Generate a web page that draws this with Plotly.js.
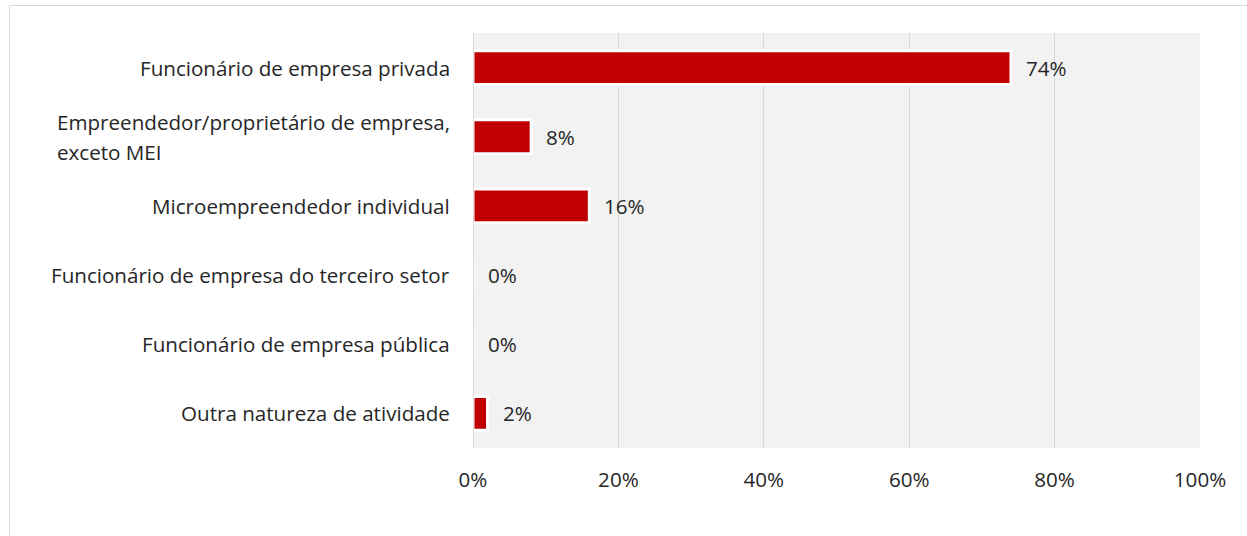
<!DOCTYPE html>
<html>
<head>
<meta charset="utf-8">
<script src="https://cdn.plot.ly/plotly-3.0.1.min.js"></script>
<style>
  html, body { margin: 0; padding: 0; background: #fff; }
  #frame { position: absolute; left: 9px; top: 5px; width: 1300px; height: 600px;
           border-top: 1px solid #d9d9d9; border-left: 1px solid #d9d9d9; }
  #chart { position: absolute; left: 0; top: 0; width: 1247px; height: 536px; }
</style>
</head>
<body>
<div id="frame"></div>
<div id="chart"></div>
<script>
const categories = [
  "Funcionário de empresa privada",
  "Empreendedor/proprietário de empresa,<br>exceto MEI",
  "Microempreendedor individual",
  "Funcionário de empresa do terceiro setor",
  "Funcionário de empresa pública",
  "Outra natureza de atividade"
];
const values = [74, 8, 16, 0, 0, 2];
const tickValues = [0, 20, 40, 60, 80, 100];
const tickLabels = ["0%", "20%", "40%", "60%", "80%", "100%"];

const FONT = "Open Sans, Noto Sans, sans-serif";
const TXT = "#262626";
const FS = 20.6;

const trace = {
  type: "bar",
  orientation: "h",
  y: categories,
  x: values,
  marker: { color: "#c00000", line: { color: "#ffffff", width: 3 } },
  hoverinfo: "skip"
};

const annotations = [];
categories.forEach((c, i) => {
  annotations.push({
    x: values[i], y: c, xref: "x", yref: "y",
    text: values[i] + "%", showarrow: false,
    xanchor: "left", xshift: 13,
    font: { family: FONT, size: FS, color: TXT }
  });
  const lines = c.split("<br>");
  lines.forEach((ln, j) => {
    annotations.push({
      x: 0, y: c, xref: "paper", yref: "y",
      text: ln, showarrow: false,
      xanchor: "right", align: "left",
      xshift: -21,
      yshift: (lines.length - 1) * 15 - j * 30,
      font: { family: FONT, size: FS, color: TXT }
    });
  });
});

const layout = {
  width: 1247, height: 536,
  margin: { l: 473, r: 47, t: 33, b: 88 },
  paper_bgcolor: "rgba(0,0,0,0)",
  plot_bgcolor: "#f2f2f2",
  bargap: 0.51,
  showlegend: false,
  font: { family: FONT, size: FS, color: TXT },
  xaxis: {
    range: [0, 100], tickvals: tickValues, ticktext: tickLabels,
    showgrid: true, gridcolor: "#d9d9d9", gridwidth: 1,
    zeroline: false, showline: false, ticks: "",
    ticklabelstandoff: 17, fixedrange: true,
    tickfont: { family: FONT, size: FS, color: TXT }
  },
  yaxis: {
    type: "category", autorange: "reversed",
    showticklabels: false, showgrid: false, zeroline: false,
    showline: false, ticks: "", fixedrange: true
  },
  shapes: [{
    type: "line", xref: "x", yref: "paper", x0: 0, x1: 0, y0: 0, y1: 1,
    line: { color: "#d0d0d0", width: 1.5 }, layer: "above"
  }],
  annotations: annotations
};

Plotly.newPlot("chart", [trace], layout, { displayModeBar: false, staticPlot: true }).then(gd => {
  // left-align the lines of the two-line label as one block
  const anns = gd.layout.annotations;
  const groups = {};
  anns.forEach((a, k) => {
    if (a.xref === "paper") { (groups[a.y] = groups[a.y] || []).push(k); }
  });
  const nodes = gd.querySelectorAll(".annotation");
  const updates = {};
  Object.values(groups).forEach(idx => {
    if (idx.length < 2) return;
    const widths = idx.map(k => nodes[k].querySelector("text").getComputedTextLength());
    const maxW = Math.max(...widths);
    idx.forEach((k, n) => {
      updates["annotations[" + k + "].xshift"] = -21 - (maxW - widths[n]);
    });
  });
  if (Object.keys(updates).length) Plotly.relayout(gd, updates);
});
</script>
</body>
</html>
